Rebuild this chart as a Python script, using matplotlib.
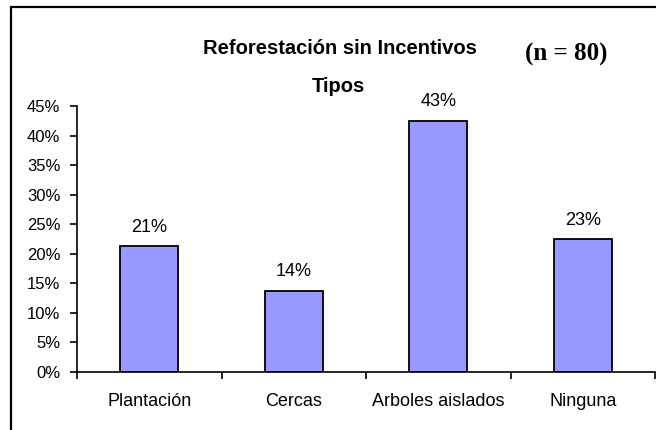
import matplotlib
matplotlib.use("Agg")
import matplotlib.pyplot as plt
from matplotlib.patches import Rectangle
from matplotlib.ticker import PercentFormatter, FixedLocator
import numpy as np

categories = ["Plantación", "Cercas", "Arboles aislados", "Ninguna"]
values = [0.2125, 0.1375, 0.425, 0.225]
bar_labels = ["21%", "14%", "43%", "23%"]
yticks = [0, 0.05, 0.10, 0.15, 0.20, 0.25, 0.30, 0.35, 0.40, 0.45]

W, H = 656, 430
fig = plt.figure(figsize=(W / 100, H / 100), dpi=100)
sans = ["Liberation Sans", "DejaVu Sans"]

ax = fig.add_axes([77 / W, 1 - 372 / H, (655 - 77) / W, (372 - 106) / H])
x = np.arange(len(categories))
ax.bar(x, values, width=0.4, color="#9999FF", edgecolor="black", linewidth=1.3, zorder=3)
for xi, v, lab in zip(x, values, bar_labels):
    ax.annotate(lab, (xi, v), xytext=(0, 7.5), textcoords="offset points",
                ha="center", va="bottom", fontsize=13, family=sans)

ax.set_xlim(-0.5, len(categories) - 0.5)
ax.set_ylim(0, 0.45)
ax.set_yticks(yticks)
ax.yaxis.set_major_formatter(PercentFormatter(1.0, decimals=0))
ax.set_xticks(x)
ax.set_xticklabels(categories)
ax.xaxis.set_minor_locator(FixedLocator(np.arange(-0.5, len(categories), 1.0)))
ax.tick_params(axis="x", which="major", length=0, pad=15, labelsize=13)
ax.tick_params(axis="x", which="minor", length=5, width=1.2, direction="out")
ax.tick_params(axis="y", length=5, width=1.2, direction="out", pad=7, labelsize=12)
for lab in ax.get_xticklabels() + ax.get_yticklabels():
    lab.set_family(sans)
for s in ["top", "right"]:
    ax.spines[s].set_visible(False)
for s in ["left", "bottom"]:
    ax.spines[s].set_linewidth(1.2)
    ax.spines[s].set_zorder(4)

fig.text(340 / W, 1 - 48 / H, "Reforestación sin Incentivos", ha="center", va="center",
         fontsize=14.5, fontweight="bold", family=sans)
fig.text(338 / W, 1 - 87 / H, "Tipos", ha="center", va="center",
         fontsize=14.5, fontweight="bold", family=sans)
fig.text(566 / W, 1 - 54 / H, "(n = 80)", ha="center", va="center",
         fontsize=18, fontweight="bold", family=["Liberation Serif", "DejaVu Serif"])

fig.patches.append(Rectangle((11 / W, -0.2), 1.5, 1.2 - 7 / H, transform=fig.transFigure,
                             fill=False, edgecolor="black", linewidth=1.6))

fig.savefig("out.png", dpi=100)
